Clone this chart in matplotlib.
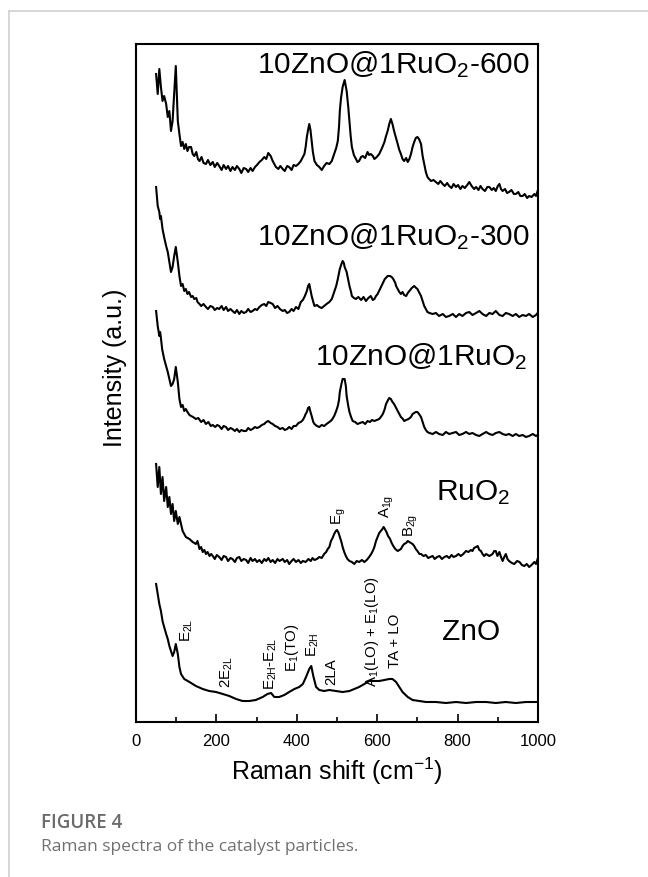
import numpy as np
import matplotlib.pyplot as plt

plt.rcParams['font.family'] = 'Liberation Sans'
plt.rcParams['mathtext.fontset'] = 'custom'
plt.rcParams['mathtext.rm'] = 'Liberation Sans'
plt.rcParams['mathtext.it'] = 'Liberation Sans:italic'

# Raman spectra, stacked (wavenumber in cm-1, intensity in a.u. incl. offset)
znru_600 = [(50,648),(54,628),(58,653),(62,635),(66,621),(70,626),(75,618),(79,605),(83,611),(87,591),(91,601),(95,628),(99,656),(104,601),(108,588),(112,576),(116,580),(120,573),(124,578),(128,571),(132,575),(137,575),(141,568),(145,566),(150,570),(154,563),(158,561),(163,565),(168,559),(174,558),(179,562),(185,557),(191,560),(196,555),(202,559),(207,556),(213,552),(218,557),(224,553),(229,556),(235,551),(240,555),(246,552),(251,556),(257,553),(262,549),(268,554),(274,553),(279,550),(285,554),(290,551),(296,555),(301,557),(307,560),(313,562),(319,565),(324,563),(329,569),(335,566),(340,561),(344,558),(348,555),(354,553),(359,556),(365,553),(370,551),(376,556),(381,555),(387,552),(392,557),(398,556),(404,558),(410,561),(415,565),(419,568),(422,575),(425,585),(428,592),(431,598),(434,592),(437,581),(440,570),(444,561),(450,557),(456,555),(462,552),(468,556),(474,559),(481,558),(487,561),(493,568),(498,574),(502,581),(505,595),(507,611),(510,624),(514,635),(519,642),(524,631),(528,615),(531,601),(534,586),(537,575),(542,567),(547,563),(551,560),(555,561),(560,565),(564,566),(570,564),(576,570),(580,567),(584,568),(589,566),(593,563),(599,565),(605,568),(612,574),(618,580),(622,586),(626,591),(630,598),(634,603),(638,598),(642,591),(647,584),(651,578),(655,572),(659,568),(663,563),(667,561),(672,564),(676,560),(680,563),(684,568),(688,575),(692,580),(696,584),(700,585),(704,583),(709,578),(713,566),(717,558),(721,550),(725,545),(729,543),(734,541),(740,542),(746,540),(752,538),(757,541),(763,538),(768,536),(774,539),(779,536),(785,534),(790,538),(796,535),(801,537),(807,533),(812,536),(818,534),(824,537),(829,540),(835,536),(841,533),(846,535),(852,532),(857,536),(862,533),(868,531),(874,535),(879,535),(885,532),(890,534),(895,531),(900,536),(904,538),(908,533),(912,531),(918,533),(923,529),(928,530),(934,532),(940,528),(945,528),(951,530),(956,526),(962,526),(967,528),(973,524),(978,526),(984,525),(991,528),(995,526),(999,531)]

znru_300 = [(50,535),(54,516),(58,510),(60,503),(62,506),(66,493),(70,485),(75,476),(79,470),(83,460),(87,450),(91,455),(95,466),(99,475),(104,460),(108,446),(112,436),(116,438),(120,431),(124,433),(128,428),(132,430),(137,425),(141,426),(145,423),(150,424),(153,420),(158,418),(162,416),(168,418),(174,415),(179,413),(185,416),(191,415),(196,412),(202,414),(207,413),(213,416),(218,412),(224,415),(229,411),(235,413),(240,411),(246,409),(251,412),(257,408),(262,411),(268,409),(274,410),(279,413),(285,410),(290,411),(296,413),(301,412),(307,415),(313,417),(319,418),(324,416),(329,420),(335,419),(340,418),(346,414),(352,416),(358,413),(365,411),(370,412),(376,409),(381,410),(387,413),(392,411),(398,415),(404,413),(410,420),(415,422),(419,425),(422,428),(425,431),(428,436),(431,438),(434,432),(437,426),(441,420),(444,416),(450,417),(456,415),(462,414),(468,416),(474,418),(481,420),(487,423),(493,430),(498,436),(502,443),(507,453),(511,458),(514,461),(517,459),(519,455),(524,450),(528,442),(531,436),(535,430),(537,426),(542,424),(547,423),(553,425),(560,422),(566,425),(572,421),(578,424),(584,426),(589,422),(593,423),(597,426),(601,428),(607,433),(613,438),(619,443),(626,446),(632,446),(636,445),(640,443),(645,439),(647,436),(651,433),(655,430),(659,428),(663,430),(667,427),(672,426),(676,429),(680,431),(686,434),(692,436),(697,434),(700,433),(705,429),(709,426),(713,421),(717,416),(721,413),(725,410),(730,409),(738,408),(746,409),(754,406),(763,408),(771,405),(779,406),(788,408),(796,405),(804,408),(812,406),(821,409),(829,410),(837,407),(846,409),(854,411),(862,408),(871,406),(879,409),(887,408),(895,411),(904,407),(912,406),(920,409),(928,408),(937,406),(945,408),(953,405),(962,407),(970,406),(978,408),(987,405),(995,407),(999,409)]

znru = [(50,411),(54,396),(58,386),(60,390),(62,384),(65,373),(70,363),(75,356),(79,350),(83,343),(87,336),(91,338),(95,343),(99,355),(104,340),(108,323),(112,315),(116,317),(120,311),(124,313),(128,310),(133,307),(137,306),(142,305),(149,303),(155,304),(162,300),(168,302),(174,298),(180,300),(186,296),(191,297),(197,295),(202,297),(207,296),(213,293),(218,296),(224,295),(229,292),(235,294),(240,293),(246,291),(251,293),(257,290),(262,292),(268,291),(274,291),(279,294),(285,292),(290,293),(296,295),(301,294),(307,295),(313,297),(319,298),(324,300),(329,301),(335,299),(340,298),(346,296),(352,295),(358,293),(365,294),(370,292),(376,293),(381,295),(387,293),(392,296),(398,296),(404,299),(410,300),(415,302),(419,305),(422,308),(425,310),(428,314),(431,315),(434,310),(437,306),(441,300),(444,298),(450,296),(456,295),(462,297),(468,296),(474,298),(481,300),(487,302),(493,306),(498,311),(502,316),(505,322),(507,330),(511,338),(514,343),(519,343),(522,336),(524,326),(528,316),(531,310),(535,305),(539,301),(545,300),(551,298),(557,299),(564,300),(570,298),(576,301),(582,300),(587,302),(593,301),(599,302),(605,303),(609,305),(614,308),(618,312),(622,318),(627,322),(630,324),(634,323),(638,320),(642,318),(647,314),(651,311),(655,308),(659,305),(664,303),(667,301),(672,302),(678,303),(684,305),(688,308),(692,309),(696,310),(700,310),(704,308),(709,305),(713,300),(717,295),(721,292),(725,290),(730,289),(738,288),(746,290),(754,288),(763,287),(771,290),(779,288),(788,289),(796,290),(804,287),(812,288),(821,290),(829,288),(837,289),(846,287),(854,286),(862,288),(871,290),(879,288),(887,287),(895,289),(904,290),(912,288),(920,287),(928,288),(937,286),(945,288),(953,286),(962,287),(970,285),(978,286),(987,288),(995,286),(999,287)]

ruo2 = [(50,258),(54,235),(58,255),(62,228),(66,245),(70,221),(75,235),(79,215),(83,225),(87,208),(91,218),(95,201),(99,211),(104,198),(108,205),(116,191),(124,185),(133,183),(141,180),(149,178),(153,181),(158,173),(162,175),(166,170),(170,172),(174,168),(178,170),(183,166),(187,168),(191,166),(196,163),(201,167),(207,165),(213,162),(218,166),(224,165),(229,161),(235,164),(240,163),(246,160),(251,164),(257,165),(262,161),(268,163),(274,162),(279,159),(285,164),(290,161),(296,163),(301,160),(307,162),(313,159),(319,163),(324,161),(329,164),(335,160),(340,162),(346,159),(352,163),(357,161),(365,163),(370,160),(376,162),(381,158),(387,161),(392,163),(398,160),(404,162),(410,159),(415,161),(422,160),(429,163),(435,161),(439,164),(444,162),(450,163),(456,165),(462,164),(468,168),(473,170),(477,173),(481,175),(485,181),(489,184),(493,188),(497,191),(500,192),(504,189),(507,185),(511,180),(514,175),(518,170),(522,166),(526,163),(531,161),(537,160),(543,158),(549,161),(555,160),(562,162),(568,160),(574,162),(580,165),(585,168),(589,171),(593,175),(597,181),(601,185),(605,189),(609,191),(613,193),(616,195),(619,193),(623,190),(627,186),(632,183),(636,179),(640,176),(645,173),(651,171),(655,172),(659,173),(663,176),(667,178),(672,179),(676,181),(680,180),(684,179),(688,178),(692,176),(696,173),(700,171),(705,168),(709,168),(715,166),(721,167),(727,164),(732,165),(738,166),(743,163),(749,165),(755,166),(761,163),(767,165),(773,166),(779,164),(785,167),(790,165),(796,166),(802,168),(808,166),(814,168),(821,171),(827,170),(833,172),(837,171),(841,174),(846,175),(850,176),(854,172),(858,171),(862,168),(866,166),(871,168),(879,166),(887,168),(891,171),(895,171),(899,166),(904,170),(908,165),(912,161),(916,165),(920,168),(924,163),(928,161),(935,159),(941,158),(948,161),(954,160),(960,157),(966,156),(972,158),(978,155),(984,157),(991,160),(995,158),(999,163)]

zno = [(50,138),(54,128),(58,118),(62,111),(66,101),(70,95),(75,88),(79,83),(83,76),(87,71),(91,66),(95,70),(99,78),(104,68),(108,55),(112,48),(120,43),(133,40),(149,36),(166,33),(182,31),(199,30),(216,28),(232,26),(249,23),(265,21),(282,21),(298,22),(315,25),(327,28),(336,29),(344,25),(356,25),(369,27),(381,30),(394,33),(406,35),(415,38),(423,45),(431,53),(436,56),(441,46),(448,35),(456,32),(468,31),(481,32),(497,31),(514,30),(531,31),(543,33),(555,35),(568,38),(580,41),(593,41),(605,41),(618,42),(630,43),(638,43),(647,40),(655,35),(663,30),(676,25),(688,22),(705,21),(721,20),(746,20),(771,19),(796,20),(821,19),(846,20),(871,20),(895,19),(920,20),(945,19),(970,20),(999,20)]

spectra = [znru_600, znru_300, znru, ruo2, zno]

# sample names: (text, x, y) with right-aligned baseline
sample_labels = [
    (r'10ZnO@1RuO$_2$-600', 980, 650),
    (r'10ZnO@1RuO$_2$-300', 980, 478),
    (r'10ZnO@1RuO$_2$', 975, 358),
    (r'RuO$_2$', 930, 223),
    (r'ZnO', 905, 83),
]

# band assignments: (text, x, y of text start)
band_labels = [
    (r'E$_\mathregular{g}$', 505, 198),
    (r'A$_\mathregular{1g}$', 625, 205),
    (r'B$_\mathregular{2g}$', 684, 186),
    (r'E$_\mathregular{2L}$', 126, 81),
    (r'2E$_\mathregular{2L}$', 226, 35),
    (r'E$_\mathregular{2H}$-E$_\mathregular{2L}$', 335, 33),
    (r'E$_\mathregular{1}$(TO)', 388, 51),
    (r'E$_\mathregular{2H}$', 439, 66),
    (r'2LA', 486, 38),
    (r'A$_\mathregular{1}$(LO) + E$_\mathregular{1}$(LO)', 586, 36),
    (r'TA + LO', 644, 55),
]

fig = plt.figure(figsize=(6.48, 8.78), dpi=100)
ax = fig.add_axes([136/648, 1 - 723/878, 402/648, 678/878])

for s in spectra:
    d = np.array(s)
    ax.plot(d[:, 0], d[:, 1], color='black', lw=1.5)

for text, x, y in sample_labels:
    ax.text(x, y, text, fontsize=21.5, ha='right', va='baseline')

for text, x, y in band_labels:
    ax.text(x, y, text, fontsize=10.8, rotation=90, ha='center', va='bottom')

ax.set_xlim(0, 1000)
ax.set_ylim(0, 678)
ax.set_xticks([0, 200, 400, 600, 800, 1000])
ax.set_xticks(np.arange(100, 1000, 200), minor=True)
ax.set_yticks([])
ax.tick_params(axis='x', which='major', direction='in', length=6, width=1.2, labelsize=12, pad=8)
ax.tick_params(axis='x', which='minor', direction='in', length=3.5, width=1.2)
for sp in ax.spines.values():
    sp.set_linewidth(1.5)

ax.set_xlabel(r'Raman shift (cm$^{-1}$)', fontsize=18, labelpad=5)
ax.set_ylabel('Intensity (a.u.)', fontsize=18)
ax.yaxis.set_label_coords(-0.022, 0.524)

# page frame and caption
fig.add_artist(plt.Line2D([9/648, 1], [1 - 11.5/878] * 2, color='#cfcfcf', lw=1.2))
fig.add_artist(plt.Line2D([9/648] * 2, [0, 1 - 11.5/878], color='#cfcfcf', lw=1.2))
fig.text(41/648, 1 - 828/878, 'FIGURE 4', fontsize=13.5, family='Open Sans',
         weight='semibold', color='#6b6b6b', va='baseline')
fig.text(41/648, 1 - 851/878, 'Raman spectra of the catalyst particles.', fontsize=12.5,
         family='Open Sans', color='#707070', va='baseline')

fig.savefig('out.png', dpi=100)
